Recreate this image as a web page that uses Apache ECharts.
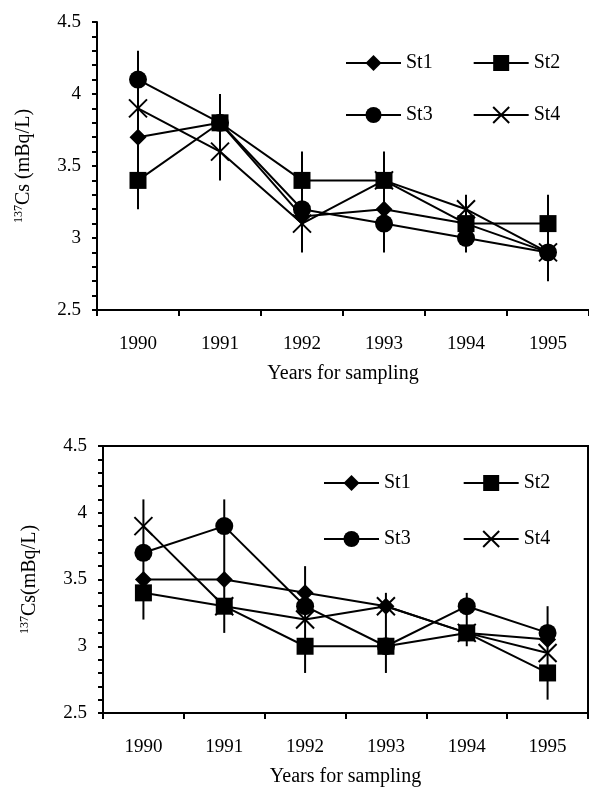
<!DOCTYPE html>
<html><head><meta charset="utf-8">
<script src="https://cdn.jsdelivr.net/npm/echarts@6/dist/echarts.min.js"></script>
<style>html,body{margin:0;padding:0;background:#fff}#c{width:589px;height:798px}</style>
</head><body><div id="c"></div>
<script>
// ---- data ----
const years = ['1990', '1991', '1992', '1993', '1994', '1995'];
const stationNames = ['St1', 'St2', 'St3', 'St4'];

// top panel
const topSt1 = [3.7, 3.8, 3.15, 3.2, 3.1, 2.9];
const topSt2 = [3.4, 3.8, 3.4, 3.4, 3.1, 3.1];
const topSt3 = [4.1, 3.8, 3.2, 3.1, 3.0, 2.9];
const topSt4 = [3.9, 3.6, 3.1, 3.4, 3.2, 2.9];
const topErrLow  = [3.2, 3.4, 2.9, 2.9, 2.9, 2.7];
const topErrHigh = [4.3, 4.0, 3.6, 3.6, 3.3, 3.3];

// bottom panel
const botSt1 = [3.5, 3.5, 3.4, 3.3, 3.1, 3.05];
const botSt2 = [3.4, 3.3, 3.0, 3.0, 3.1, 2.8];
const botSt3 = [3.7, 3.9, 3.3, 3.0, 3.3, 3.1];
const botSt4 = [3.9, 3.3, 3.2, 3.3, 3.1, 2.95];
const botErrLow  = [3.2, 3.1, 2.8, 2.8, 3.0, 2.6];
const botErrHigh = [4.1, 4.1, 3.6, 3.4, 3.4, 3.3];

const yMin = 2.5, yMax = 4.5, yStep = 0.5;
const xTitle = 'Years for sampling';

// ---- styling ----
const FONT = 'Liberation Serif';
const BLACK = '#000';
const symbols = {
  St1: ['diamond', 17],
  St2: ['rect', 17],
  St3: ['circle', 18],
  St4: ['path://M0,0L10,10M0,10L10,0', 18]
};

function lineSeries(name, data, gi) {
  const [sym, size] = symbols[name];
  const isX = name === 'St4';
  return {
    type: 'line', name: name, data: data,
    xAxisIndex: gi, yAxisIndex: gi,
    symbol: sym, symbolSize: size,
    lineStyle: { color: BLACK, width: 2 },
    itemStyle: { color: isX ? 'rgba(0,0,0,0)' : BLACK, borderColor: BLACK, borderWidth: isX ? 2 : 0 },
    z: 3, animation: false
  };
}

function errSeries(low, high, gi) {
  return {
    type: 'custom', name: 'err' + gi, silent: true, z: 2,
    xAxisIndex: gi, yAxisIndex: gi,
    data: low.map((l, i) => [i, l, high[i]]),
    encode: { x: 0, y: [1, 2] },
    renderItem: function (params, api) {
      const a = api.coord([api.value(0), api.value(1)]);
      const b = api.coord([api.value(0), api.value(2)]);
      return { type: 'line', shape: { x1: a[0], y1: a[1], x2: b[0], y2: b[1] },
               style: { stroke: BLACK, lineWidth: 2 } };
    },
    animation: false
  };
}

function xAxis(gi) {
  return {
    type: 'category', gridIndex: gi, data: years, boundaryGap: true,
    axisLine: { lineStyle: { color: BLACK, width: 2 } },
    axisTick: { show: true, length: 6, lineStyle: { color: BLACK, width: 2 } },
    axisLabel: { color: BLACK, fontFamily: FONT, fontSize: 19, margin: 25 },
    name: xTitle, nameLocation: 'middle', nameGap: 54,
    nameTextStyle: { color: BLACK, fontFamily: FONT, fontSize: 20 }
  };
}

function yAxis(gi, nameText) {
  return {
    type: 'value', gridIndex: gi, min: yMin, max: yMax, interval: yStep,
    axisLine: { show: true, lineStyle: { color: BLACK, width: 2 } },
    axisTick: { show: true, length: 5, lineStyle: { color: BLACK, width: 2 } },
    minorTick: { show: true, splitNumber: 5, length: 5, lineStyle: { color: BLACK, width: 2 } },
    splitLine: { show: false },
    axisLabel: { color: BLACK, fontFamily: FONT, fontSize: 19, margin: 16 },
    name: '{sup|137}{n|' + nameText + '}', nameLocation: 'middle', nameRotate: 90, nameGap: 62,
    nameTextStyle: {
      color: BLACK, fontFamily: FONT, fontSize: 20,
      rich: {
        sup: { fontSize: 12, fontFamily: FONT, color: BLACK, verticalAlign: 'top', lineHeight: 22 },
        n: { fontSize: 20, fontFamily: FONT, color: BLACK, lineHeight: 22 }
      }
    }
  };
}

function legend(names, left, top, gap) {
  return {
    data: names, left: left, top: top, orient: 'horizontal', padding: 0,
    itemWidth: 55, itemHeight: 20, itemGap: gap,
    selectedMode: false,
    textStyle: { color: BLACK, fontFamily: FONT, fontSize: 20 }
  };
}

const option = {
  backgroundColor: '#fff',
  animation: false,
  grid: [
    { left: 97, right: -7, top: 22, height: 288 },
    { left: 103, right: 1, top: 446, height: 267, show: true, borderColor: BLACK, borderWidth: 2 }
  ],
  xAxis: [xAxis(0), xAxis(1)],
  yAxis: [yAxis(0, 'Cs (mBq/L)'), yAxis(1, 'Cs(mBq/L)')],
  legend: [
    legend(stationNames.slice(0, 2), 345, 53, 40),
    legend(stationNames.slice(2, 4), 345, 105, 40),
    legend(stationNames.slice(0, 2), 323, 473, 52),
    legend(stationNames.slice(2, 4), 323, 529, 52)
  ],
  series: [
    errSeries(topErrLow, topErrHigh, 0),
    lineSeries('St1', topSt1, 0),
    lineSeries('St2', topSt2, 0),
    lineSeries('St3', topSt3, 0),
    lineSeries('St4', topSt4, 0),
    errSeries(botErrLow, botErrHigh, 1),
    lineSeries('St1', botSt1, 1),
    lineSeries('St2', botSt2, 1),
    lineSeries('St3', botSt3, 1),
    lineSeries('St4', botSt4, 1)
  ]
};

const chart = echarts.init(document.getElementById('c'), null, { renderer: 'canvas' });
chart.setOption(option);
</script>
</body></html>
